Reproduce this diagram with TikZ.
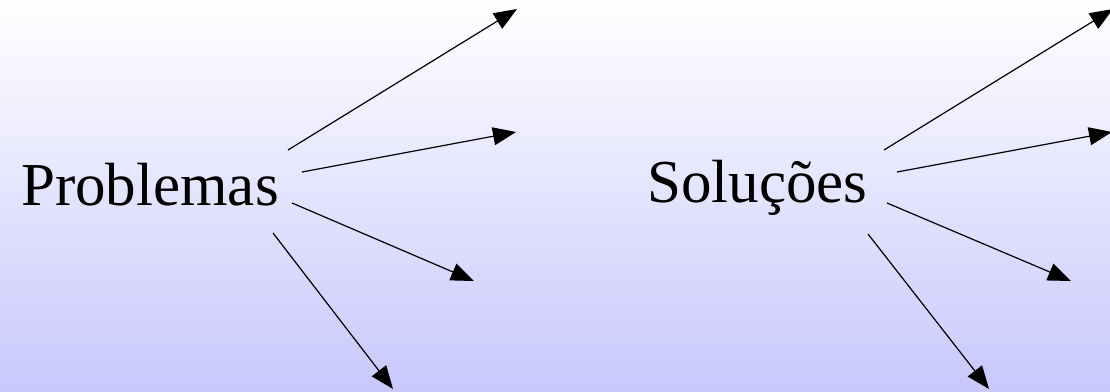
\documentclass[tikz,border=0pt]{standalone}
\usepackage{fontspec}
\setmainfont{Liberation Serif}
\usetikzlibrary{arrows.meta}
\definecolor{paper}{HTML}{FFFFFF}
\definecolor{lavender}{HTML}{C8C8FC}
\definecolor{ink}{HTML}{000000}
\begin{document}
\begin{tikzpicture}[x=1pt,y=1pt,every node/.style={font=\fontsize{61}{70}\selectfont,text=ink,inner sep=0pt},link/.style={ink,line width=1.2pt,-{Triangle[length=23pt,width=18pt]}}]
\useasboundingbox (0,0) rectangle (1110,391);\clip (0,0) rectangle (1110,391);
\shade[top color=paper,bottom color=lavender] (0,0) rectangle (1110,391);
\node[anchor=base west] (prob) at (21,185){Problemas};
\node[anchor=base west] (sol) at (647,188){Soluções};
\coordinate (p1s) at (288,241);\coordinate (p1e) at (517,382);
\coordinate (p2s) at (302,219);\coordinate (p2e) at (516,259);
\coordinate (p3s) at (292,188);\coordinate (p3e) at (474,110);
\coordinate (p4s) at (273,158);\coordinate (p4e) at (393,2);
\coordinate (s1s) at (884,241);\coordinate (s1e) at (1113,382);
\coordinate (s2s) at (897,219);\coordinate (s2e) at (1112,259);
\coordinate (s3s) at (887,188);\coordinate (s3e) at (1071,110);
\coordinate (s4s) at (868,157);\coordinate (s4e) at (989,2);
\draw[link] (p1s)--(p1e);\draw[link] (p2s)--(p2e);\draw[link] (p3s)--(p3e);\draw[link] (p4s)--(p4e);
\draw[link] (s1s)--(s1e);\draw[link] (s2s)--(s2e);\draw[link] (s3s)--(s3e);\draw[link] (s4s)--(s4e);
\end{tikzpicture}
\end{document}
